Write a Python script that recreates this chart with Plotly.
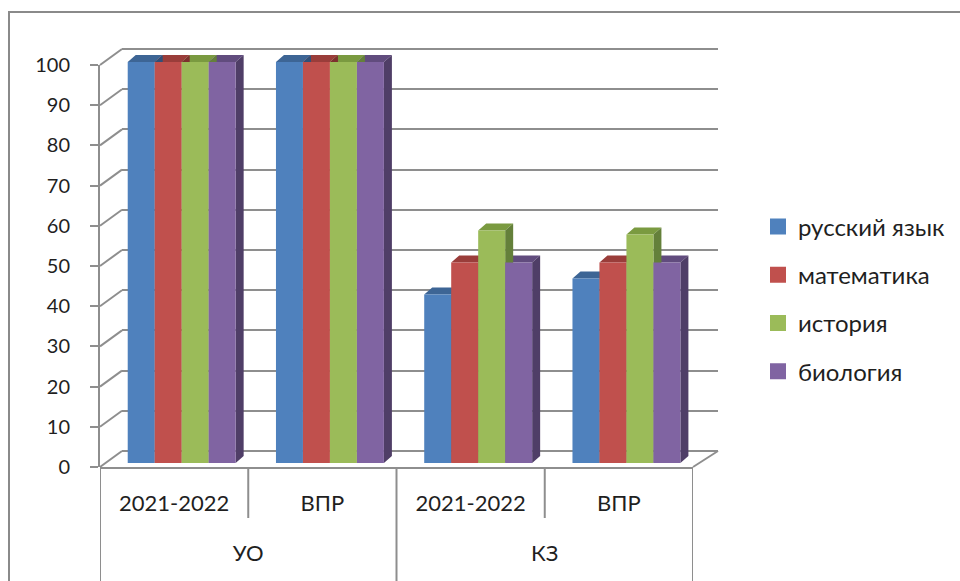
import plotly.graph_objects as go

# ---------------- data ----------------
groups = ["УО", "УО", "КЗ", "КЗ"]
periods = ["2021-2022", "ВПР", "2021-2022", "ВПР"]
subjects = ["русский язык", "математика", "история", "биология"]
russian = [100, 100, 42, 46]
math = [100, 100, 50, 50]
history = [100, 100, 58, 57]
biology = [100, 100, 50, 50]
y_ticks = list(range(0, 101, 10))

series = [russian, math, history, biology]

# ---------------- styles ----------------
front_colors = ["#4f81bd", "#c0504d", "#9bbb59", "#8064a2"]
top_colors = ["#3d6595", "#9a3d3a", "#7a9a40", "#614c7e"]
side_colors = ["#2f5079", "#7d302e", "#64803a", "#4f3e67"]
GRID = "#8e8e8e"
FONT = "Lato"
TXT = "#1f1f1f"

W, H = 960, 581


def fx(px):
    return px / W


def fy(py):
    return 1 - py / H


# geometry in window pixels
PLOT_L, PLOT_R = 100, 693          # front floor edge
FLOOR_Y, AX_TOP = 467, 65          # front axis 0 and 100
BAR0, BAR100 = 463, 62             # bar front faces 0 and 100
BACK_L, BACK_R = 122, 718          # back wall
BACK0, BACK100 = 451, 49
DX, DY = 8, 7                      # bar depth
G0, BW = -0.313, 0.182             # group start offset / bar width (category units)
INNER_LBL_Y, OUTER_LBL_Y = 488, 538

s_bar = (BAR0 - BAR100) / 100.0
bar_top_px = 40
bar_range = [-(FLOOR_Y - BAR0) / s_bar, 100 + (BAR100 - bar_top_px) / s_bar]
bar_domain_y = [fy(FLOOR_Y), fy(bar_top_px)]
bar_domain_x = [fx(PLOT_L), fx(PLOT_R)]
ux = (PLOT_R - PLOT_L) / 4.0
dxu, dyu = DX / ux, DY / s_bar

s_back = (BACK0 - BACK100) / 100.0
back_range = [-1, 101]
back_domain_y = [fy(BACK0 + s_back), fy(BACK100 - s_back)]

ncat = len(periods)
cat_pos = list(range(ncat))
# outer group centres derived from the groups list
outer_names, outer_pos = [], []
start = 0
for j in range(1, ncat + 1):
    if j == ncat or groups[j] != groups[start]:
        outer_names.append(groups[start])
        outer_pos.append((start + j - 1) / 2)
        start = j

fig = go.Figure()

# back wall subplot (x, y): only grid lines
fig.add_trace(go.Scatter(x=[None], y=[None], xaxis="x", yaxis="y",
                         showlegend=False, hoverinfo="skip"))

# 3D faces (x2, y2): tops then sides
for kind in ("top", "side"):
    for i, vals in enumerate(series):
        xs, ys = [], []
        for j in range(ncat):
            v = vals[j]
            left = j + G0 + i * BW
            right = left + BW
            if kind == "top":
                px_ = [left, left + dxu, right + dxu, right, left]
                py_ = [v, v + dyu, v + dyu, v, v]
            else:
                px_ = [right, right + dxu, right + dxu, right, right]
                py_ = [0, dyu, v + dyu, v, 0]
            xs += px_ + [None]
            ys += py_ + [None]
        col = top_colors[i] if kind == "top" else side_colors[i]
        fig.add_trace(go.Scatter(x=xs, y=ys, xaxis="x2", yaxis="y2", mode="lines",
                                 fill="toself", fillcolor=col, line=dict(width=0, color=col),
                                 showlegend=False, hoverinfo="skip"))

# front faces (x3, y3)
for i, vals in enumerate(series):
    fig.add_trace(go.Bar(x=[groups, periods], y=vals, xaxis="x3", yaxis="y3",
                         width=BW, offset=G0 + i * BW,
                         marker=dict(color=front_colors[i], line=dict(width=0)),
                         name=subjects[i], showlegend=False))

# legend entries + front value axis (x4, y4)
for i, name in enumerate(subjects):
    fig.add_trace(go.Scatter(x=[None], y=[None], xaxis="x4", yaxis="y4", mode="markers",
                             marker=dict(symbol="square", size=16, color=front_colors[i]),
                             name=name, legendgroup=name, showlegend=True))

# label axes for the two category levels
fig.add_trace(go.Scatter(x=[None], y=[None], xaxis="x5", yaxis="y4",
                         showlegend=False, hoverinfo="skip"))
fig.add_trace(go.Scatter(x=[None], y=[None], xaxis="x6", yaxis="y4",
                         showlegend=False, hoverinfo="skip"))

shapes = []
# outer chart border
shapes.append(dict(type="rect", xref="paper", yref="paper", x0=fx(9), x1=fx(W + 20),
                   y0=fy(12), y1=fy(H + 20), line=dict(color="#8a8a8a", width=2)))
# left wall diagonals
for v in y_ticks:
    shapes.append(dict(type="line", xref="paper", yref="paper",
                       x0=fx(PLOT_L), y0=fy(FLOOR_Y - (FLOOR_Y - AX_TOP) / 100 * v),
                       x1=fx(BACK_L), y1=fy(BACK0 - s_back * v),
                       line=dict(color=GRID, width=2)))
# floor right edge
shapes.append(dict(type="line", xref="paper", yref="paper",
                   x0=fx(PLOT_R), y0=fy(FLOOR_Y), x1=fx(BACK_R), y1=fy(BACK0),
                   line=dict(color=GRID, width=2)))
# category dividers
for j in range(ncat + 1):
    b = j - 0.5
    outer = j == 0 or j == ncat or groups[j] != groups[j - 1]
    bottom = H + 10 if outer else 518
    shapes.append(dict(type="line", xref="x2", yref="paper", x0=b, x1=b,
                       y0=fy(FLOOR_Y), y1=fy(bottom), line=dict(color=GRID, width=2)))

label_font = dict(size=22, family=FONT, color=TXT)

fig.update_layout(
    width=W, height=H, margin=dict(l=0, r=0, t=0, b=0, autoexpand=False),
    paper_bgcolor="white", plot_bgcolor="rgba(0,0,0,0)",
    font=dict(family=FONT, color=TXT),
    barmode="overlay",
    shapes=shapes,
    xaxis=dict(domain=[fx(BACK_L), fx(BACK_R)], range=[0, 1], anchor="y",
               visible=False, showgrid=False, zeroline=False),
    yaxis=dict(domain=back_domain_y, range=back_range, anchor="x",
               showgrid=True, gridcolor=GRID, gridwidth=2, tickvals=y_ticks,
               showticklabels=False, ticks="", zeroline=False, showline=False),
    xaxis2=dict(domain=bar_domain_x, range=[-0.5, 3.5], anchor="y2", visible=False,
                showgrid=False, zeroline=False),
    yaxis2=dict(domain=bar_domain_y, range=bar_range, anchor="x2", visible=False,
                showgrid=False, zeroline=False),
    xaxis3=dict(domain=bar_domain_x, range=[-0.5, 3.5], anchor="y3", type="multicategory",
                showline=True, linecolor=GRID, linewidth=2, showgrid=False, zeroline=False,
                showdividers=False, ticks="", showticklabels=False),
    yaxis3=dict(domain=bar_domain_y, range=bar_range, anchor="x3", visible=False,
                showgrid=False, zeroline=False),
    xaxis4=dict(domain=[fx(PLOT_L), fx(PLOT_L + 10)], range=[0, 1], anchor="y4",
                visible=False, showgrid=False, zeroline=False),
    yaxis4=dict(domain=[fy(FLOOR_Y), fy(AX_TOP)], range=[0, 100], anchor="x4",
                showline=True, linecolor=GRID, linewidth=2, ticks="outside", ticklen=8,
                tickwidth=2, tickcolor=GRID, tickvals=y_ticks, showgrid=False, zeroline=False,
                ticklabelstandoff=16, tickfont=dict(size=20, family=FONT, color=TXT)),
    xaxis5=dict(domain=bar_domain_x, range=[-0.5, 3.5], anchor="free", position=fy(INNER_LBL_Y),
                tickvals=cat_pos, ticktext=periods, ticks="", showline=False, showgrid=False,
                zeroline=False, tickfont=label_font),
    xaxis6=dict(domain=bar_domain_x, range=[-0.5, 3.5], anchor="free", position=fy(OUTER_LBL_Y),
                tickvals=outer_pos, ticktext=outer_names, ticks="", showline=False,
                showgrid=False, zeroline=False, tickfont=label_font),
    legend=dict(x=fx(758), y=fy(299), xanchor="left", yanchor="middle",
                traceorder="grouped", tracegroupgap=14,
                font=dict(size=24, family=FONT, color=TXT), bgcolor="rgba(0,0,0,0)"),
)

fig.write_html("out.html", config={"displayModeBar": False},
               post_script="document.body.style.margin='0';document.body.style.overflow='hidden';")
